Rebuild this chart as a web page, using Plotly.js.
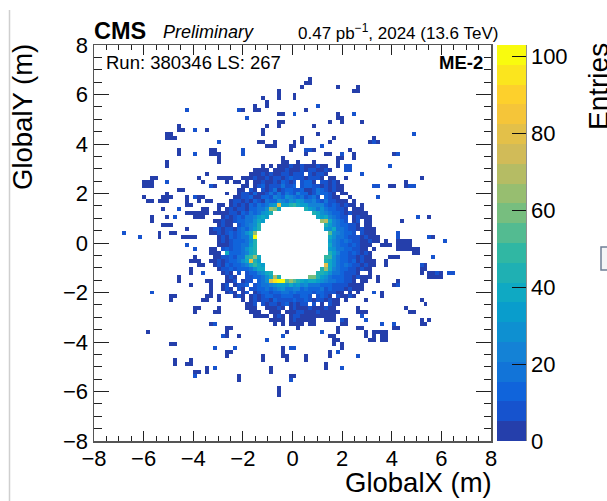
<!DOCTYPE html>
<html>
<head>
<meta charset="utf-8">
<script src="https://cdn.plot.ly/plotly-3.0.1.min.js"></script>
<style>html,body{margin:0;padding:0;background:#fff}</style>
</head>
<body>
<div id="chart" style="width:607px;height:501px"></div>
<script>
// Band colours of the palette, lowest to highest.
const bandColors = ["#253fab","#1653ce","#1064db","#1274d8","#1482d6","#0e90d1","#099dcc","#0fa9c3","#1fb0b3","#30b7a3","#53bb91","#77be7f","#97be70","#b5bc64","#d1bb58","#e3c049","#f5c539","#fdd02c","#fbe51e","#f9fb0e"];
// Entries represented by each level code.
const levelCodes = "123456789abcdefghijk";
const levelEntries = [3,8,13,18,23,28,33,38,44,49,54,59,64,69,75,80,85,90,95,100];
const colorbarTicks = [0,20,40,60,80,100];
const axisTicks = [-8,-6,-4,-2,0,2,4,6,8];
// Histogram cells, one entry per row from the top: "column:levels" ('.' = empty).
const cellRows = {
 8:"54:1", 9:"53:11", 10:"52:1 61:1 66:1", 11:"46:1 65:11", 12:"46:1 50:1", 13:"42:1 46:1 50:1",
 14:"43:1", 15:"40:1 43:1 56:2", 16:"23:2 36:21 40:11 53:1", 17:"46:11 50:2 61:1 65:2", 18:"38:2 61:11",
 19:"46:11 59:1 62:1 67:1", 20:"21:1 43:1 46:1 55:1", 21:"21:11 25:2 28:1 42:1", 22:"18:11 42:1 56:1 80:2",
 23:"18:111 52:1 60:1 70:1", 24:"31:2 41:11 45:1 50:1 52:1 59:1 69:121", 25:"43:111 49:11 57:2",
 26:"21:1 29:11 37:2 49:1 53:221 64:1", 27:"21:1 25:2 29:111 37:2 53:1 58:11 62:2 65:1 75:12",
 28:"31:1 47:1 61:11 65:1", 29:"18:1 31:1 47:11 51:1 55:1 61:1",
 30:"18:1 42:1 44:1 46:1112112111211 61:1 63:22 74:2",
 31:"40:1111.111211121221121 63:22",
 32:"28:1 39:11121211221222.21221 67:2",
 33:"14:11 26:1 31:1111 37:111211212212322212221.11 63:1 82:1",
 34:"12:111 18:2 27:1 33:1 35:11 38:1.11211213212.2331.22121 78:1",
 35:"12:111 29:21 37:11.12312224223.23322121211 70:22 74:11 78:122",
 36:"21:11 36:11.21.212412332231124321211",
 37:"18:1 33:1 36:1221311242424325331243321.11",
 38:"12:1 17:111 23:1 25:211 35:1122311332543654342342.3211..1 71:2",
 39:"13:11 16:111 23:1 26:1 28:11 34:122121321433654657644532422111.1",
 40:"23:11 31:11 34:121213243467g779a877555532321211.1",
 41:"17:1 21:2 27:11 31:1 33:12122133446dc8 53:97646433221.111",
 42:"23:1111 27:11 30:111 33:122132434679 55:98654332121111",
 43:"14:1 18:1 20:2 25:11 27:1 32:121232445787 56:87854322.12111 81:2 84:1",
 44:"14:1 30:1 31:121123344687 57:de85432.12.11 77:1",
 45:"17:111 31:1211.234569 58:975433221.11",
 46:"23:1 29:1221221343579 58:7684432212111",
 47:"7:2 16:1 19:11 29:11212323468d 59:b654332.2111 76:2",
 48:"11:2 16:1 22:1111 31:121323447k 59:8644322212111 76:2 84:21",
 49:"31:1212333469 59:7543432211211 73:1 76:1111 88:2",
 50:"23:2 31:11 33:12334479 59:85433232111 72:11 74:1 76:1111",
 51:"25:2 29:11 32:232334689 59:7644332211 70:1 76:1111 80:11",
 52:"29:111 33:83334589 59:97533232121 80:11",
 53:"25:1 30:112232449ad8 58:aa6433221211 74:111 85:2",
 54:"24:111 29:1121233468g97 58:9864332312111 73:1",
 55:"26:11 30:1213233458a87 58:g864343221211 73:1 82:21",
 56:"24:1 31:122323334688 57:9d85433221211 82:11",
 57:"24:1 27:2 32:121.2.2335689 56:99864432221..1 82:1 84:1121 89:22",
 58:"21:1 33:121..2233468e9 54:cc97643332212111 71:1 84:1111",
 59:"21:1 28:11 33:112.122.346gjkkbdb987887654433221.11 71:1 76:1",
 60:"24:1 29:1 32:12.1223.2344567768675644433322221111 75:12",
 61:"29:1 32:121.21.22334345644553433342322212111",
 62:"14:2 29:1 33:121.12.12332334434333323322211.1.1 70:2 72:1",
 63:"19:11 28:11 31:1 35:121.1212332233322332.2321.21121 72:1",
 64:"19:1 27:11 31:1 37:1.12122132222322321221211.1 68:1 82:1",
 65:"38:112.212212312122.2.1.211 83:1",
 66:"25:11 31:1 38:111..11121.121112111211 66:1 78:1",
 67:"25:1 30:11 39:111..111.11122111211111 66:111 79:11",
 68:"40:1111.121.122111111111 67:2",
 69:"44:1111 49:1211111 58:111 62:21 68:2 82:1 84:1",
 70:"29:12 45:1 47:1 49:1111 54:11 62:11 72:2 75:2 82:11",
 71:"33:11 51:1 61:1 66:11 75:11",
 72:"13:1 33:1 48:1 57:2 61:1 68:1 70:1111",
 73:"32:21 36:1 47:2 59:11 68:1 70:1 72:11",
 74:"43:2 60:11 69:11 72:11",
 75:"19:11 60:1 62:1",
 76:"30:2 35:2 47:1 49:22 62:1",
 77:"33:11 47:1 59:1 61:2",
 78:"33:1 42:1 47:11 53:1 59:1 66:2",
 79:"20:1 24:1 42:1 48:1 53:1",
 80:"20:1 23:11 58:1",
 81:"28:1 30:2 44:1 58:1 62:2",
 82:"25:11 28:1 44:1",
 83:"25:2 36:1 49:11",
 84:"36:1 49:2",
 86:"46:1", 87:"46:1", 88:"46:1"
};

const nBins = 100;
const z = [];
for (let j = 0; j < nBins; j++) {
  const row = new Array(nBins).fill(null);
  (cellRows[j] || "").split(" ").filter(Boolean).forEach(tok => {
    const [start, codes] = tok.split(":");
    [...codes].forEach((c, k) => {
      const lvl = levelCodes.indexOf(c);
      if (lvl >= 0) row[+start + k] = levelEntries[lvl];
    });
  });
  z.push(row);
}
const colorscale = [];
bandColors.forEach((c, k) => {
  colorscale.push([k / bandColors.length, c], [(k + 1) / bandColors.length, c]);
});

const L = 94, R = 491, T = 45, B = 441;
const px = v => (v - L) / (R - L), py = v => (B - v) / (B - T);
const font = "Liberation Sans, Arimo, Helvetica, Arial, sans-serif";
const note = (x, y, text, size, anchor, extra) => Object.assign({
  xref: "paper", yref: "paper", x: px(x), y: py(y), text, showarrow: false,
  xanchor: anchor, yanchor: "middle", align: anchor,
  font: { family: font, size, color: "#000" }
}, extra || {});

function axis() {
  return {
    range: [-8, 8], tickmode: "array", tickvals: axisTicks, ticktext: axisTicks.map(v => v < 0 ? "\u2212" + (-v) : "" + v),
    ticks: "inside", ticklen: 10, tickwidth: 1, tickcolor: "#222",
    minor: { dtick: 0.5, ticks: "inside", ticklen: 5, tickwidth: 1, tickcolor: "#222", showgrid: false },
    showline: true, linecolor: "#555", linewidth: 1.5, mirror: "allticks",
    showgrid: false, zeroline: false, tickfont: { family: font, size: 22, color: "#000" }
  };
}
const xaxis = axis();
xaxis.ticklabelstandoff = -3;
const yaxis = axis();
yaxis.ticklen = 15; yaxis.minor.ticklen = 7.5;

Plotly.newPlot("chart", [{
  type: "heatmap", z,
  x0: -8 + 0.08, dx: 0.16, y0: 8 - 0.08, dy: -0.16,
  colorscale, zmin: 0, zmax: 103, zsmooth: false, hoverongaps: false,
  colorbar: {
    x: px(497), xanchor: "left", y: 0, yanchor: "bottom", len: 1, lenmode: "fraction",
    thickness: 29, thicknessmode: "pixels", xpad: 0, ypad: 0, outlinewidth: 0, borderwidth: 0,
    tickmode: "array", tickvals: colorbarTicks, ticks: "inside", ticklen: 14, tickcolor: "#111", tickwidth: 1,
    tickfont: { family: font, size: 22, color: "#000" }
  }
}], {
  width: 607, height: 501, autosize: false,
  margin: { l: L, r: 607 - R, t: T, b: 501 - B, pad: 0 },
  paper_bgcolor: "#fff", plot_bgcolor: "#fff",
  xaxis, yaxis,
  shapes: [
    { type: "line", xref: "paper", yref: "paper", x0: px(526), x1: px(526), y0: py(45), y1: py(441), line: { color: "#222", width: 1 } },
    { type: "line", xref: "paper", yref: "paper", x0: px(9.5), x1: px(9.5), y0: py(10), y1: py(501), line: { color: "#cfcfcf", width: 1.5 } },
    { type: "rect", xref: "paper", yref: "paper", x0: px(601), x1: px(612), y0: py(247), y1: py(270), fillcolor: "#f4f5f7", line: { color: "#6f7f96", width: 1.5 } }
  ],
  annotations: [
    note(94, 31, "<b>CMS</b>", 23.5, "left", { xshift: -2 }),
    note(163, 32, "<i>Preliminary</i>", 18, "left", { xshift: -2 }),
    note(498, 32, "0.47 pb<sup>\u22121</sup>, 2024 (13.6 TeV)", 17, "right", { xshift: 2 }),
    note(106, 63, "Run: 380346 LS: 267", 18.5, "left", { xshift: -2 }),
    note(483, 63, "<b>ME-2</b>", 18.5, "right", { xshift: 2 }),
    note(492, 482, "GlobalX (m)", 27.5, "right", { xshift: 2 }),
    note(23, 117, "GlobalY (m)", 27.5, "center", { textangle: -90 }),
    note(598, 87, "Entries", 28, "center", { textangle: -90 })
  ]
}, { displayModeBar: false, staticPlot: true });
</script>
</body>
</html>
